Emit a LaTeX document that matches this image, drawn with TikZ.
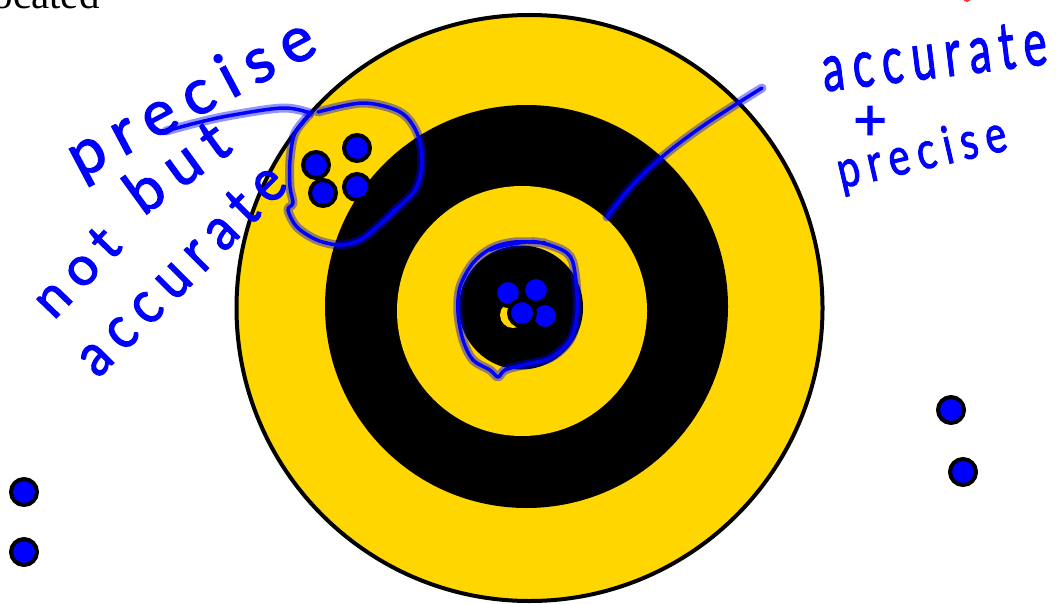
\documentclass[tikz,border=0pt]{standalone}
\usepackage{fontspec}
\setmainfont{Liberation Serif}
\newfontfamily\hwfont[LetterSpace=20,FakeBold=2]{Lato}
\definecolor{targetyellow}{RGB}{255,214,0}
\definecolor{inkblue}{RGB}{0,0,255}
\tikzset{
  shot/.style={circle, fill=inkblue, draw=black, line width=4pt, minimum size=26pt, inner sep=0pt},
  ink/.style={draw=inkblue, line width=3.5pt, line cap=round, line join=round},
  inkhalo/.style={draw=inkblue, line width=9pt, opacity=0.42, line cap=round, line join=round},
  hwtext/.style={text=inkblue, inner sep=0pt},
}
\newcommand{\hwword}[6]{%
  \node[hwtext, rotate=#3, #6, font=\hwfont\fontsize{#4}{#4}\selectfont] (#1) at (#2) {#5};
}
\begin{document}
\begin{tikzpicture}[x=1pt,y=-1pt]
\useasboundingbox (0,0) rectangle (1056,604);
\clip (0,0) rectangle (1056,604);
% cut-off text at top
\node[anchor=base west, inner sep=0pt, font=\fontsize{41}{41}\selectfont] (located) at (-19,9) {located};
\fill[red!80] (967,-2) circle (4);
% target
\filldraw[fill=targetyellow, draw=black, line width=4pt] (529.5,308) circle (293);
\fill[black] (526.5,306.5) circle (201.5);
\fill[targetyellow] (522,311) circle (125);
\fill[black] (521,307.5) circle (62);
\fill[targetyellow] (513,315) circle (13);
% shots
\node[shot] (s1) at (316,165) {};
\node[shot] (s2) at (357,148) {};
\node[shot] (s3) at (323,193) {};
\node[shot] (s4) at (357,187) {};
\node[shot] (c1) at (508,293) {};
\node[shot] (c2) at (536,290) {};
\node[shot] (c4) at (545,316) {};
\node[shot] (c3) at (522,313) {};
\node[shot] (l1) at (24,492) {};
\node[shot] (l2) at (24,552) {};
\node[shot] (r1) at (951,410) {};
\node[shot] (r2) at (963,472) {};
% ink strokes
\foreach \st in {inkhalo,ink}{
  \draw[\st] plot[smooth, tension=0.6] coordinates {(166,131) (200,122) (233,115) (283,108) (310,113)};
  \draw[\st] plot[smooth, tension=0.55] coordinates {(318,112) (363,103) (400,112) (417,133) (422,163) (415,190) (393,212) (377,227) (360,240) (340,245) (317,240) (297,227) (288,210) (293,203) (290,187) (290,160) (295,133) (310,114)};
  \draw[\st] plot[smooth, tension=0.55] coordinates {(490,250) (507,245) (537,242) (567,253) (575,273) (577,313) (570,340) (550,358) (523,365) (505,370) (498,377) (490,370) (473,360) (463,340) (458,313) (460,287) (473,263) (492,248) (515,242) (545,243)};
  \draw[\st] plot[smooth, tension=0.6] coordinates {(762,88) (738,103) (700,128) (662,157) (630,188) (607,217)};
}
% handwriting
\hwword{w1}{192,100}{28}{63}{precise}{}
\hwword{w2}{176,166}{36}{60}{but}{}
\hwword{w3}{76,272}{46}{54}{not}{}
\hwword{w4}{180,269}{45}{53}{accurate}{yscale=1.12}
\hwword{w5}{934,56}{7}{44}{accurate}{yscale=1.5}
\hwword{w6}{870,123}{0}{58}{+}{}
\hwword{w7}{922,155}{13}{40}{precise}{yscale=1.3}
\end{tikzpicture}
\end{document}
